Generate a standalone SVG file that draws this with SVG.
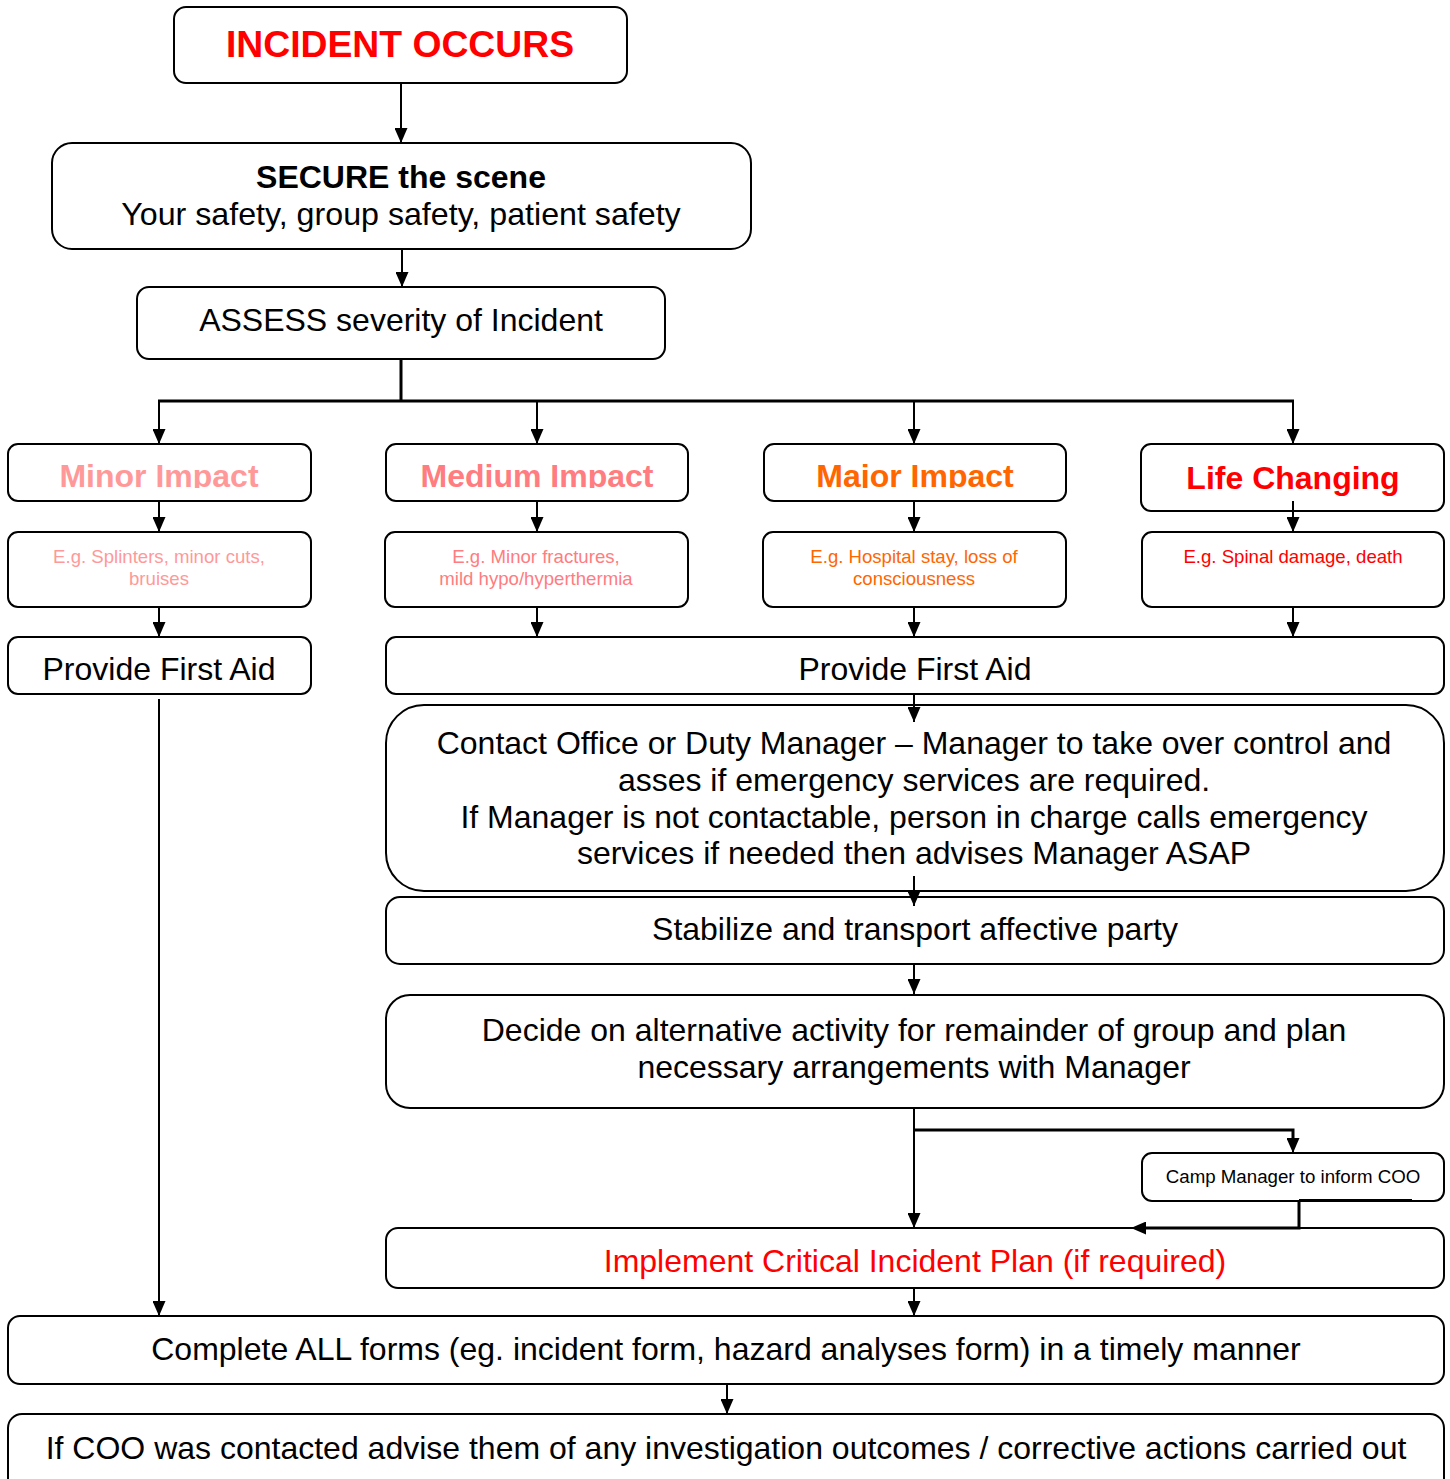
<svg xmlns="http://www.w3.org/2000/svg" width="1450" height="1479" viewBox="0 0 1450 1479">
<style>
.box{fill:#fff;stroke:#000;stroke-width:2}
.t{font-family:"Liberation Sans",Arial,sans-serif;text-anchor:middle;fill:#000}
.b{font-weight:bold}
.c{stroke:#000;stroke-width:2;fill:none}
.c3{stroke:#000;stroke-width:3;fill:none}
</style>
<defs>
<marker id="ah" viewBox="0 0 15 13" refX="15" refY="6.5" markerWidth="15" markerHeight="13" markerUnits="userSpaceOnUse" orient="auto">
<path d="M0,0 L15,6.5 L0,13 z" fill="#000"/>
</marker>
<clipPath id="clipImpact"><rect x="0" y="440" width="1450" height="48"/></clipPath>
</defs>
<rect width="1450" height="1479" fill="#fff"/>

<g id="connectors">
<line class="c" x1="401" y1="83" x2="401" y2="143" marker-end="url(#ah)"/>
<line class="c" x1="402" y1="249" x2="402" y2="287" marker-end="url(#ah)"/>
<line class="c3" x1="401" y1="359" x2="401" y2="401"/>
<line class="c3" x1="158" y1="401" x2="1294" y2="401"/>
<line class="c" x1="159" y1="401" x2="159" y2="444" marker-end="url(#ah)"/>
<line class="c" x1="537" y1="401" x2="537" y2="444" marker-end="url(#ah)"/>
<line class="c" x1="914" y1="401" x2="914" y2="444" marker-end="url(#ah)"/>
<line class="c" x1="1293" y1="401" x2="1293" y2="444" marker-end="url(#ah)"/>
<line class="c" x1="159" y1="501" x2="159" y2="532" marker-end="url(#ah)"/>
<line class="c" x1="537" y1="501" x2="537" y2="532" marker-end="url(#ah)"/>
<line class="c" x1="914" y1="501" x2="914" y2="532" marker-end="url(#ah)"/>
<line class="c" x1="159" y1="607" x2="159" y2="637" marker-end="url(#ah)"/>
<line class="c" x1="537" y1="607" x2="537" y2="637" marker-end="url(#ah)"/>
<line class="c" x1="914" y1="607" x2="914" y2="637" marker-end="url(#ah)"/>
<line class="c" x1="1293" y1="607" x2="1293" y2="637" marker-end="url(#ah)"/>
<line class="c" x1="159" y1="699" x2="159" y2="1316" marker-end="url(#ah)"/>
<line class="c" x1="914" y1="1108" x2="914" y2="1228" marker-end="url(#ah)"/>
<polyline class="c3" points="914,1130 1293,1130 1293,1138"/>
<line class="c" x1="1293" y1="1136" x2="1293" y2="1153" marker-end="url(#ah)"/>
<line class="c" x1="914" y1="1288" x2="914" y2="1316" marker-end="url(#ah)"/>
<line class="c" x1="727" y1="1384" x2="727" y2="1414" marker-end="url(#ah)"/>
</g>

<g id="n1"><rect class="box" x="174" y="7" width="453" height="76" rx="12"/>
<text class="t b" x="400" y="57" font-size="37.3" style="fill:#FF0000">INCIDENT OCCURS</text></g>

<g id="n2"><rect class="box" x="52" y="143" width="699" height="106" rx="20"/>
<text class="t b" x="401" y="188" font-size="32">SECURE the scene</text>
<text class="t" x="401" y="225" font-size="32.2">Your safety, group safety, patient safety</text></g>

<g id="n3"><rect class="box" x="137" y="287" width="528" height="72" rx="12"/>
<text class="t" x="401" y="331" font-size="32">ASSESS severity of Incident</text></g>

<g id="n4"><rect class="box" x="8" y="444" width="303" height="57" rx="10"/>
<text class="t b" x="159" y="487" font-size="32" clip-path="url(#clipImpact)" style="fill:#FF9999">Minor Impact</text></g>
<g id="n5"><rect class="box" x="386" y="444" width="302" height="57" rx="10"/>
<text class="t b" x="537" y="487" font-size="32" clip-path="url(#clipImpact)" style="fill:#FF7C80">Medium Impact</text></g>
<g id="n6"><rect class="box" x="764" y="444" width="302" height="57" rx="10"/>
<text class="t b" x="915" y="487" font-size="32" clip-path="url(#clipImpact)" style="fill:#FF6600">Major Impact</text></g>
<g id="n7"><rect class="box" x="1141" y="444" width="303" height="67" rx="10"/>
<text class="t b" x="1293" y="489" font-size="32" style="fill:#FF0000">Life Changing</text></g>
<line class="c" x1="1293" y1="501" x2="1293" y2="532" marker-end="url(#ah)"/>

<g id="n8"><rect class="box" x="8" y="532" width="303" height="75" rx="10"/>
<text class="t" x="159" y="563" font-size="18.6" style="fill:#FF9999">E.g. Splinters, minor cuts,</text>
<text class="t" x="159" y="585" font-size="18.6" style="fill:#FF9999">bruises</text></g>
<g id="n9"><rect class="box" x="385" y="532" width="303" height="75" rx="10"/>
<text class="t" x="536" y="563" font-size="18.6" style="fill:#FF7C80">E.g. Minor fractures,</text>
<text class="t" x="536" y="585" font-size="18.6" style="fill:#FF7C80">mild hypo/hyperthermia</text></g>
<g id="n10"><rect class="box" x="763" y="532" width="303" height="75" rx="10"/>
<text class="t" x="914" y="563" font-size="18.6" style="fill:#FF6600">E.g. Hospital stay, loss of</text>
<text class="t" x="914" y="585" font-size="18.6" style="fill:#FF6600">consciousness</text></g>
<g id="n11"><rect class="box" x="1142" y="532" width="302" height="75" rx="10"/>
<text class="t" x="1293" y="563" font-size="18.6" style="fill:#FF0000">E.g. Spinal damage, death</text></g>

<g id="n12"><rect class="box" x="8" y="637" width="303" height="57" rx="10"/>
<text class="t" x="159" y="680" font-size="32">Provide First Aid</text></g>
<g id="n13"><rect class="box" x="386" y="637" width="1058" height="57" rx="10"/>
<text class="t" x="915" y="680" font-size="32">Provide First Aid</text></g>

<g id="n14"><rect class="box" x="386" y="705" width="1058" height="186" rx="38"/>
<text class="t" x="914" y="754" font-size="32">Contact Office or Duty Manager – Manager to take over control and</text>
<text class="t" x="914" y="791" font-size="32">asses if emergency services are required.</text>
<text class="t" x="914" y="828" font-size="32">If Manager is not contactable, person in charge calls emergency</text>
<text class="t" x="914" y="864" font-size="32">services if needed then advises Manager ASAP</text></g>
<line class="c" x1="914" y1="694" x2="914" y2="722" marker-end="url(#ah)"/>

<g id="n15"><rect class="box" x="386" y="897" width="1058" height="67" rx="14"/>
<text class="t" x="915" y="940" font-size="32">Stabilize and transport affective party</text></g>
<line class="c" x1="914" y1="876" x2="914" y2="906" marker-end="url(#ah)"/>
<line class="c" x1="914" y1="964" x2="914" y2="994" marker-end="url(#ah)"/>

<g id="n16"><rect class="box" x="386" y="995" width="1058" height="113" rx="24"/>
<text class="t" x="914" y="1041" font-size="32">Decide on alternative activity for remainder of group and plan</text>
<text class="t" x="914" y="1078" font-size="32">necessary arrangements with Manager</text></g>

<g id="n17"><rect class="box" x="1142" y="1153" width="302" height="48" rx="10"/>
<text class="t" x="1293" y="1183" font-size="18.7">Camp Manager to inform COO</text></g>
<line class="c" x1="1299" y1="1200" x2="1412" y2="1200"/>

<g id="n18"><rect class="box" x="386" y="1228" width="1058" height="60" rx="12"/>
<text class="t" x="915" y="1272" font-size="32" style="fill:#FF0000">Implement Critical Incident Plan (if required)</text></g>
<polyline class="c3" points="1299,1201 1299,1228 1146,1228"/>
<line class="c" x1="1150" y1="1228" x2="1131" y2="1228" marker-end="url(#ah)"/>

<g id="n19"><rect class="box" x="8" y="1316" width="1436" height="68" rx="12"/>
<text class="t" x="726" y="1360" font-size="32">Complete ALL forms (eg. incident form, hazard analyses form) in a timely manner</text></g>

<g id="n20"><rect class="box" x="8" y="1414" width="1436" height="80" rx="14"/>
<text class="t" x="726" y="1459" font-size="32">If COO was contacted advise them of any investigation outcomes / corrective actions carried out</text></g>
</svg>
